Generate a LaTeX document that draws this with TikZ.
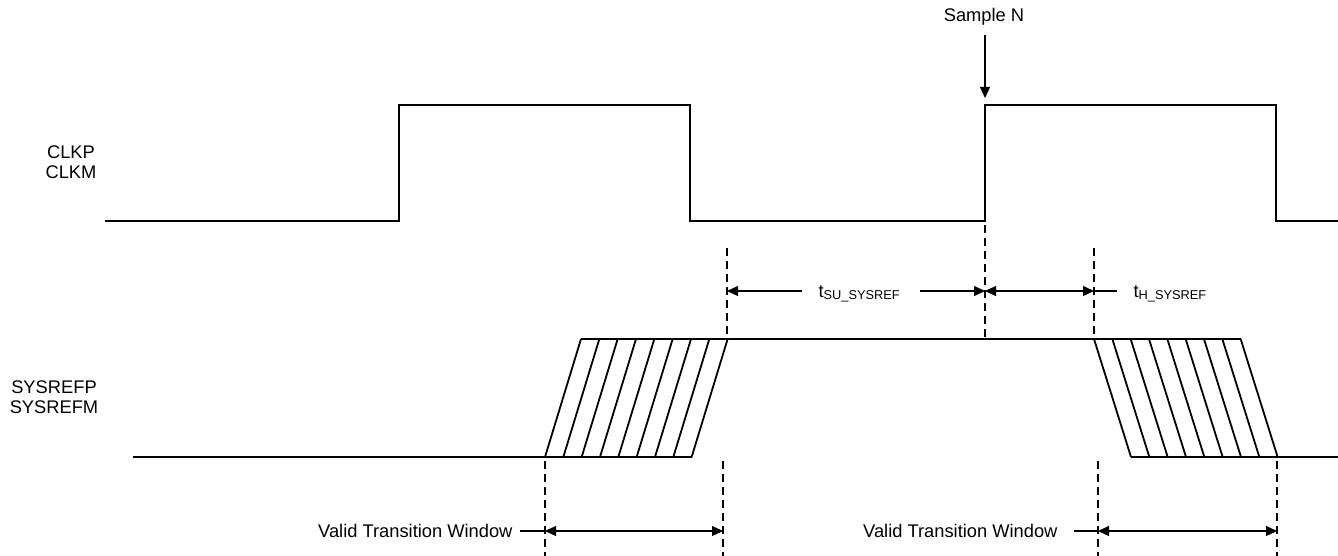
\documentclass[tikz,border=0pt]{standalone}
\usepackage{fontspec}
\setmainfont{Liberation Sans}
\usetikzlibrary{arrows.meta}

\tikzset{
    wave/.style={line width=2.4pt, line join=miter},
    hatch/.style={line width=1.8pt},
    guide/.style={line width=1.2pt, dash pattern=on 8pt off 5pt},
    tip/.style={-{Triangle[length=11pt,width=10pt]}},
    dim/.style={{Triangle[length=11pt,width=10pt]}-{Triangle[length=11pt,width=10pt]}},
    lbl/.style={font=\fontsize{18.3}{20}\selectfont, inner sep=0pt},
}

\begin{document}
\begin{tikzpicture}[x=1pt,y=-1pt,line width=1.1pt]
            \useasboundingbox (0,0) rectangle (1338,556);
            % signal names
            \node[lbl, align=center] (clk) at (71,162) {CLKP\\CLKM};
            \node[lbl, align=center] (sys) at (54,397) {SYSREFP\\SYSREFM};
            \node[lbl] (sn) at (984,17) {Sample N};
            % clock
            \draw[wave] (105,221) -- (399,221) -- (399,105) -- (690,105) -- (690,221)
                -- (985,221) -- (985,105) -- (1276,105) -- (1276,221) -- (1338,221);
            % sysref with transition windows
            \draw[wave] (133,457) -- (692,457);
            \draw[wave] (581,339) -- (1241,339);
            \draw[wave] (1131,457) -- (1338,457);
            \foreach \i in {0,...,8} {
                \draw[hatch] (545+18.33*\i,457) -- (581+18.33*\i,339);
                \draw[hatch] (1094+18.33*\i,339) -- (1131+18.33*\i,457);
            }
            % guides
            \draw[guide] (727,248) -- (727,339);
            \draw[guide] (985,225) -- (985,339);
            \draw[guide] (1094,248) -- (1094,339);
            \foreach \x in {545,723,1098,1277}
                \draw[guide] (\x,461) -- (\x,556);
            % timing
            \coordinate (su1) at (727,291);
            \coordinate (su2) at (985,291);
            \coordinate (h2) at (1094,291);
            \coordinate (w1) at (545,531);
            \coordinate (w2) at (723,531);
            \coordinate (w3) at (1098,531);
            \coordinate (w4) at (1277,531);
            \coordinate (snt) at (985,98);
            \node[lbl, anchor=base west] (su) at (818,297) {t\textsubscript{SU\_SYSREF}};
            \node[lbl, anchor=base west] (h) at (1133,297) {t\textsubscript{H\_SYSREF}};
            \node[lbl, anchor=base east] (vt1) at (513,537) {Valid Transition Window};
            \node[lbl, anchor=base east] (vt2) at (1058,537) {Valid Transition Window};
            \coordinate (sua) at (su.west |- su1);
            \coordinate (sub) at (su.east |- su1);
            \coordinate (ha) at (h.west |- h2);
            \coordinate (vta) at (vt1.east |- w1);
            \coordinate (vtb) at (vt2.east |- w3);
            \coordinate (sna) at (snt |- sn.south);
            \draw[tip] ([xshift=-16pt]sua) -- (su1);
            \draw[tip] ([xshift=19pt]sub) -- (su2);
            \draw[dim] (su2) -- (h2);
            \draw (h2) -- ([xshift=-16pt]ha);
            \draw ([xshift=7pt]vta) -- (w1);
            \draw[dim] (w1) -- (w2);
            \draw ([xshift=16pt]vtb) -- (w3);
            \draw[dim] (w3) -- (w4);
            \draw[tip] ([yshift=-9pt]sna) -- (snt);
        \end{tikzpicture}
\end{document}
